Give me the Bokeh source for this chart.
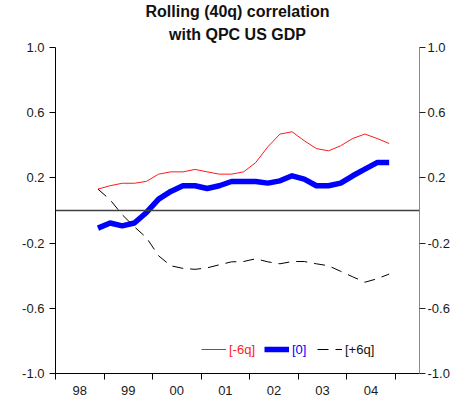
from bokeh.plotting import figure
from bokeh.models import (Range1d, LinearAxis, FixedTicker, Span, Legend, LegendItem,
                          Title)
from bokeh.embed import file_html
from bokeh.resources import INLINE

# ---- data ----
quarters = ["1998Q4",
            "1999Q1", "1999Q2", "1999Q3", "1999Q4",
            "2000Q1", "2000Q2", "2000Q3", "2000Q4",
            "2001Q1", "2001Q2", "2001Q3", "2001Q4",
            "2002Q1", "2002Q2", "2002Q3", "2002Q4",
            "2003Q1", "2003Q2", "2003Q3", "2003Q4",
            "2004Q1", "2004Q2", "2004Q3", "2004Q4"]
lag_m6 = [0.131, 0.152, 0.167, 0.167, 0.179, 0.223, 0.237, 0.237, 0.252, 0.237,
          0.223, 0.223, 0.237, 0.294, 0.391, 0.469, 0.483, 0.428, 0.380, 0.366,
          0.397, 0.442, 0.469, 0.442, 0.411]
lag_0 = [-0.108, -0.077, -0.094, -0.077, -0.012, 0.070, 0.117, 0.152, 0.152, 0.135,
         0.152, 0.178, 0.178, 0.178, 0.168, 0.182, 0.213, 0.193, 0.152, 0.152,
         0.168, 0.213, 0.254, 0.294, 0.294]
lag_p6 = [0.131, 0.066, -0.026, -0.100, -0.167, -0.278, -0.339, -0.355, -0.361, -0.352,
          -0.333, -0.315, -0.313, -0.296, -0.315, -0.327, -0.313, -0.313, -0.327, -0.339,
          -0.373, -0.407, -0.440, -0.419, -0.390]
year_ticks = [1998, 1999, 2000, 2001, 2002, 2003, 2004, 2005]
year_labels = ["98", "99", "00", "01", "02", "03", "04"]
y_ticks = [-1.0, -0.6, -0.2, 0.2, 0.6, 1.0]
y_labels = ["-1.0", "-0.6", "-0.2", "0.2", "0.6", "1.0"]
series_names = ["[-6q]", "[0]", "[+6q]"]
title_lines = ["Rolling (40q) correlation", "with QPC US GDP"]

x = [int(q[:4]) + (int(q[5]) - 0.5) / 4 for q in quarters]
label_pos = [y + 0.5 for y in year_ticks[:-1]]

FONT = "Liberation Sans"

p = figure(frame_width=364, frame_height=326,
           x_range=Range1d(1998.0, 2005.5), y_range=Range1d(-1.0, 1.0),
           output_backend="svg", toolbar_location=None, title=None,
           min_border_left=55, min_border_right=42, min_border_top=47, min_border_bottom=33)
p.outline_line_color = None
p.grid.visible = False
p.background_fill_color = "white"

# two centred title lines (inner one added first)
p.add_layout(Title(text=title_lines[1], align="center", text_font=FONT,
                   text_font_size="16px", text_font_style="bold", text_color="#111111",
                   standoff=9, offset=-2), "above")
p.add_layout(Title(text=title_lines[0], align="center", text_font=FONT,
                   text_font_size="16px", text_font_style="bold", text_color="#111111",
                   standoff=0, offset=-2), "above")

# bottom axis
xa = p.xaxis[0]
xa.ticker = FixedTicker(ticks=label_pos, minor_ticks=year_ticks)
xa.major_label_overrides = {k: v for k, v in zip(label_pos, year_labels)}
xa.major_tick_out = 0
xa.major_tick_in = 0
xa.minor_tick_out = 6
xa.minor_tick_in = 0
xa.minor_tick_line_color = "black"
xa.axis_line_color = "black"
xa.major_label_standoff = 6
xa.major_label_text_font = FONT
xa.major_label_text_font_size = "13px"
xa.major_label_text_color = "#1a1a1a"

# left axis
ya = p.yaxis[0]
ya.ticker = FixedTicker(ticks=y_ticks, minor_ticks=[])
ya.major_label_overrides = {k: v for k, v in zip(y_ticks, y_labels)}
ya.major_tick_out = 6
ya.major_tick_in = 0
ya.minor_tick_out = 0
ya.minor_tick_in = 0
ya.axis_line_color = "black"
ya.major_tick_line_color = "black"
ya.major_label_standoff = 5
ya.major_label_text_font = FONT
ya.major_label_text_font_size = "13px"
ya.major_label_text_color = "#1a1a1a"

# right axis
ra = LinearAxis(ticker=FixedTicker(ticks=y_ticks, minor_ticks=[]))
ra.major_label_overrides = {k: v for k, v in zip(y_ticks, y_labels)}
ra.major_tick_out = 6
ra.major_tick_in = 0
ra.minor_tick_out = 0
ra.minor_tick_in = 0
ra.axis_line_color = "#8a8a8a"
ra.major_tick_line_color = "#222222"
ra.major_label_standoff = 2
ra.major_label_text_font = FONT
ra.major_label_text_font_size = "13px"
ra.major_label_text_color = "#1a1a1a"
p.add_layout(ra, "right")

p.add_layout(Span(location=0, dimension="width", line_color="#404040", line_width=1.3))

r1 = p.line(x, lag_m6, line_color="#ff1a1a", line_width=1)
r2 = p.line(x, lag_0, line_color="#0000ff", line_width=5.5, line_join="round")
r3 = p.line(x, lag_p6, line_color="black", line_width=1, line_dash="11 7")

for r, name, col, xoff in [(r1, series_names[0], "#ff1a1a", 146),
                           (r2, series_names[1], "#0000ff", 209),
                           (r3, series_names[2], "#111111", 262)]:
    lg = Legend(items=[LegendItem(label=name, renderers=[r])], location=(xoff, 14),
                padding=0, margin=0, glyph_width=25, glyph_height=20, label_height=20,
                label_standoff=3, border_line_color=None, background_fill_alpha=0,
                label_text_font=FONT, label_text_font_size="13px",
                label_text_color=col)
    p.add_layout(lg)

open("out.html", "w").write(file_html(p, INLINE))
